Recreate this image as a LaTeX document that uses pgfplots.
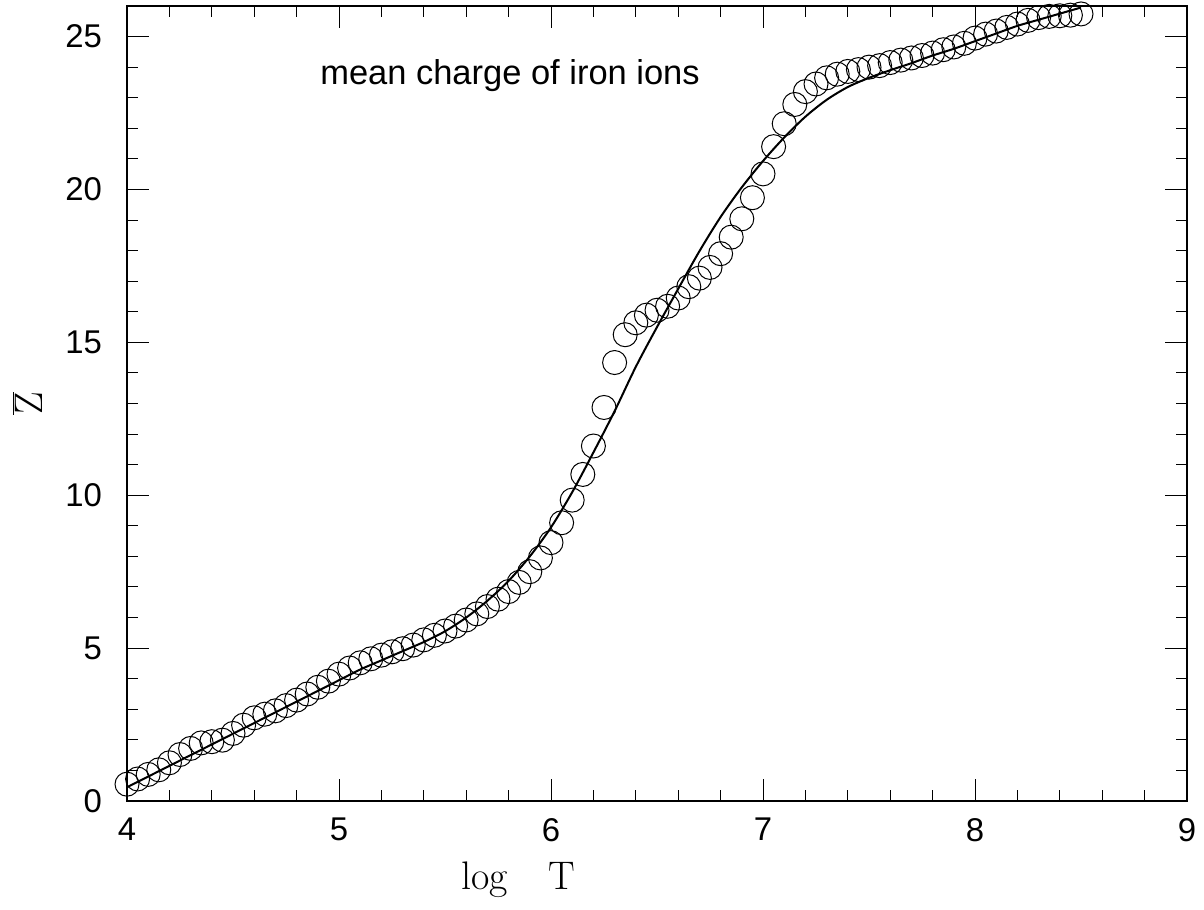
\documentclass[border=0pt]{standalone}
\usepackage{fontspec}
\setmainfont{Liberation Sans}
\newfontfamily\lmr{Latin Modern Roman}
\usepackage{pgfplots}
\pgfplotsset{compat=1.18}
\begin{document}
\begin{tikzpicture}
\begin{axis}[name=ax, scale only axis, width=530bp, height=397.5bp,
 xmin=4, xmax=9, ymin=0, ymax=26,
 xtick={4,5,6,7,8,9}, ytick={0,5,10,15,20,25},
 minor x tick num=4, minor y tick num=4,
 tick align=inside, tick pos=both,
 major tick length=11bp, minor tick length=5.5bp,
 every tick/.style={black, line width=0.5bp},
 axis line style={line width=0.8bp},
 /pgf/number format/assume math mode=true,
 tick label style={font=\fontsize{16.5}{19}\selectfont},
 xticklabel style={yshift=-5bp},
 yticklabel style={xshift=-9bp},
 xlabel={{\lmr log\hspace{20bp}T}},
 ylabel={$\overline{\mbox{\lmr Z}}$},
 label style={font=\fontsize{20}{22}\selectfont},
 xlabel style={at={(axis description cs:0.369,-0.099)}, anchor=center},
 ylabel style={at={(axis description cs:-0.094,0.5)}, anchor=center},
]
\addplot[black, line width=0.5bp, only marks, mark=o, mark size=6bp, mark options={line width=0.5bp}] coordinates {
(4.00,0.55) (4.05,0.72) (4.10,0.87) (4.15,1.02) (4.20,1.25) (4.25,1.52) (4.30,1.72) (4.35,1.90) (4.40,1.94) (4.45,1.99)
(4.50,2.21) (4.55,2.48) (4.60,2.72) (4.65,2.84) (4.70,2.95) (4.75,3.12) (4.80,3.30) (4.85,3.50) (4.90,3.72) (4.95,3.92)
(5.00,4.15) (5.05,4.35) (5.10,4.52) (5.15,4.65) (5.20,4.77) (5.25,4.88) (5.30,4.98) (5.35,5.10) (5.40,5.27) (5.45,5.42)
(5.50,5.56) (5.55,5.72) (5.60,5.92) (5.65,6.12) (5.70,6.36) (5.75,6.60) (5.80,6.85) (5.85,7.15) (5.90,7.50) (5.95,7.95)
(6.00,8.45) (6.05,9.10) (6.10,9.84) (6.15,10.68) (6.20,11.61) (6.25,12.87) (6.30,14.34) (6.35,15.25) (6.40,15.64) (6.45,15.89)
(6.50,16.05) (6.55,16.18) (6.60,16.45) (6.65,16.82) (6.70,17.10) (6.75,17.45) (6.80,17.90) (6.85,18.44) (6.90,19.04) (6.95,19.73)
(7.00,20.51) (7.05,21.40) (7.10,22.15) (7.15,22.78) (7.20,23.20) (7.25,23.45) (7.30,23.65) (7.35,23.77) (7.40,23.86) (7.45,23.92)
(7.50,24.00) (7.55,24.05) (7.60,24.15) (7.65,24.23) (7.70,24.30) (7.75,24.38) (7.80,24.46) (7.85,24.57) (7.90,24.66) (7.95,24.78)
(8.00,24.95) (8.05,25.08) (8.10,25.18) (8.15,25.30) (8.20,25.41) (8.25,25.53) (8.30,25.62) (8.35,25.66) (8.40,25.68) (8.45,25.70)
(8.50,25.74)
};
\addplot[black, line width=1bp, smooth, no marks] coordinates {
(4.0,0.45) (4.1,0.80) (4.2,1.15) (4.3,1.50) (4.4,1.85) (4.5,2.20) (4.6,2.55) (4.7,2.90) (4.8,3.25) (4.9,3.60)
(5.0,3.95) (5.1,4.30) (5.2,4.60) (5.3,4.90) (5.4,5.20) (5.5,5.55) (5.6,6.00) (5.7,6.55) (5.8,7.20) (5.9,8.00)
(6.0,8.95) (6.1,10.10) (6.2,11.40) (6.3,12.75) (6.4,14.20) (6.5,15.50) (6.6,16.75) (6.7,17.98) (6.8,19.10) (6.9,20.07)
(7.0,20.93) (7.1,21.70) (7.2,22.38) (7.3,22.93) (7.4,23.35) (7.5,23.65) (7.6,23.90) (7.7,24.13) (7.8,24.38) (7.9,24.60)
(8.0,24.85) (8.1,25.10) (8.2,25.35) (8.3,25.55) (8.4,25.75) (8.5,25.95)
};
\node[anchor=west, inner sep=0pt, font=\fontsize{17.3}{20}\selectfont] at (axis cs:4.91,23.73) {mean charge of iron ions};
\end{axis}
\path[use as bounding box] ([xshift=-63.5bp,yshift=-54bp]ax.south west) rectangle ([xshift=8.5bp,yshift=3bp]ax.north east);
\end{tikzpicture}
\end{document}
